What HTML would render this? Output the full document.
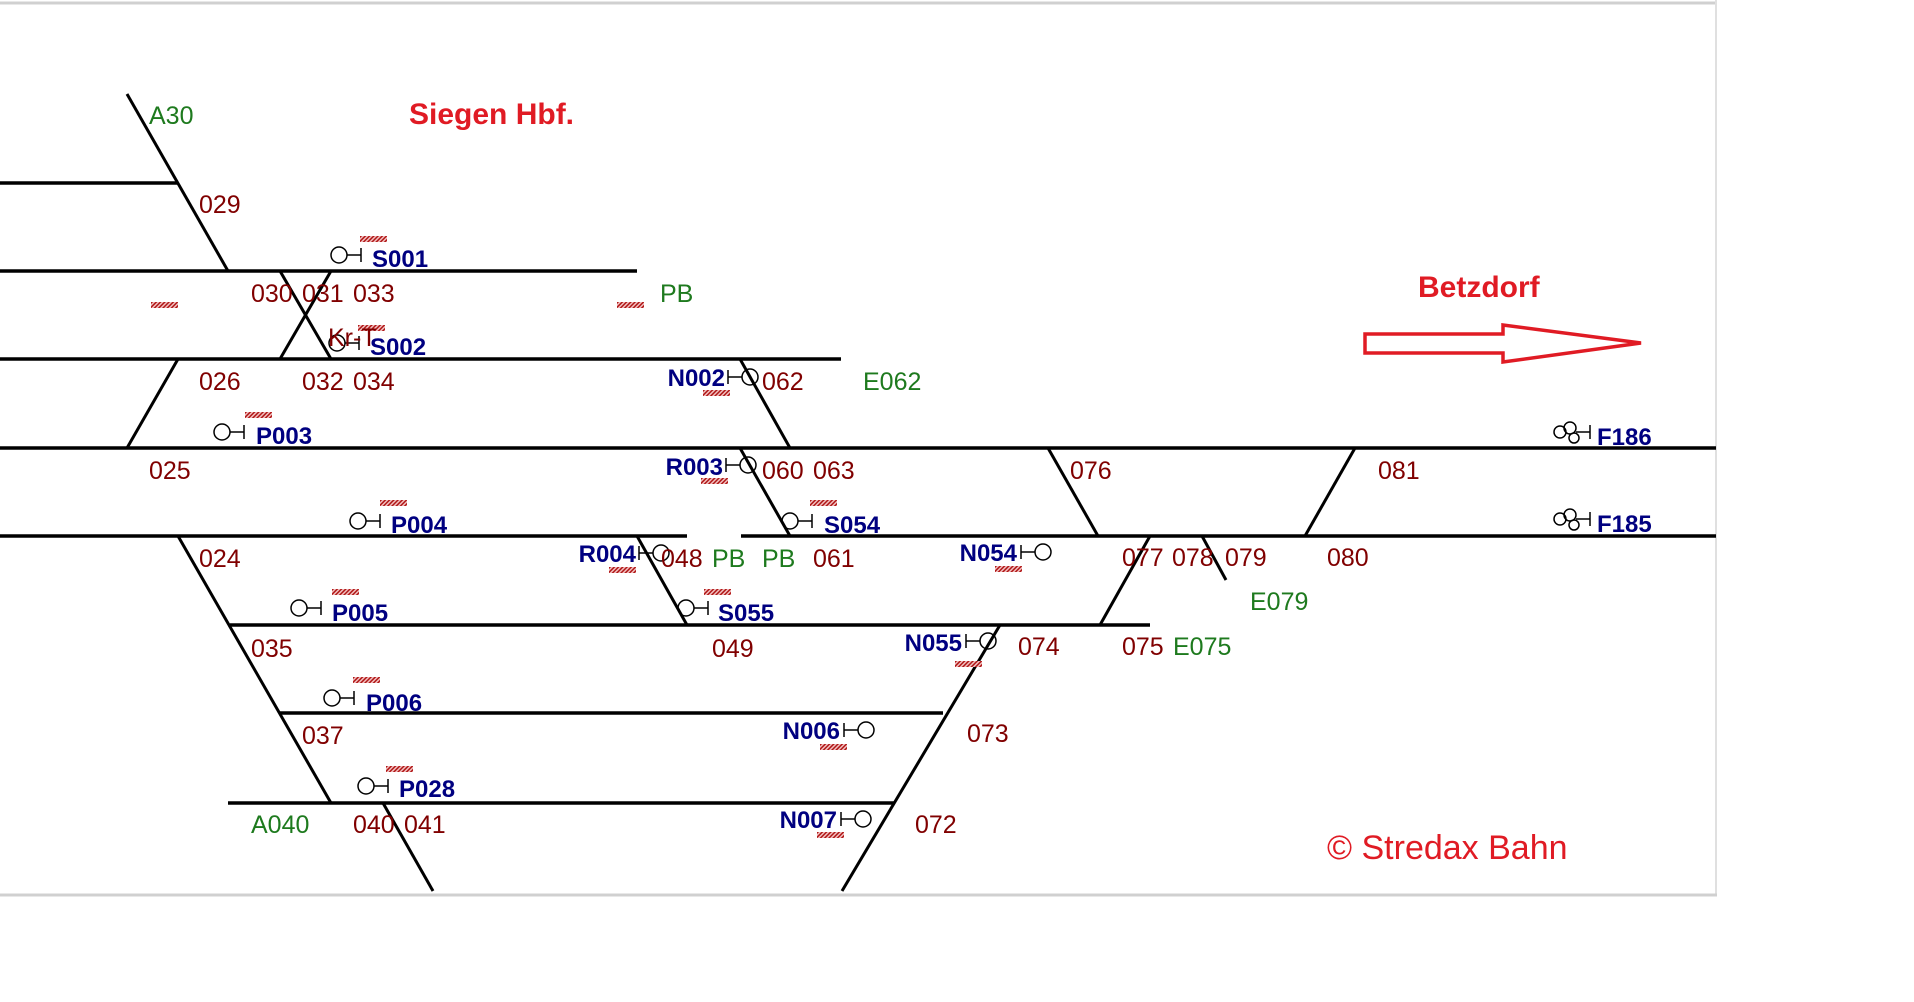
<!DOCTYPE html>
<html><head><meta charset="utf-8"><style>
html,body{margin:0;padding:0;background:#fff;}
svg{display:block;}
.t{font-family:"Liberation Sans",sans-serif;font-size:25px;fill:#800000;}
.g{font-family:"Liberation Sans",sans-serif;font-size:25px;fill:#1e7a1e;}
.s{font-family:"Liberation Sans",sans-serif;font-size:24px;font-weight:bold;fill:#000080;}
.h{font-family:"Liberation Sans",sans-serif;font-size:30px;font-weight:bold;fill:#e01b24;}
</style></head><body>
<svg width="1914" height="1002" viewBox="0 0 1914 1002" xmlns="http://www.w3.org/2000/svg">
<defs>
<pattern id="hp" width="3" height="3" patternUnits="userSpaceOnUse" patternTransform="rotate(45)">
<rect width="3" height="3" fill="#f2c0c0"/><rect width="1.5" height="3" fill="#b01818"/>
</pattern>
<g id="sl"><circle cx="0" cy="0" r="8" fill="none" stroke="#000" stroke-width="1.5"/><line x1="8" y1="0" x2="22" y2="0" stroke="#000" stroke-width="1.5"/><line x1="22" y1="-7" x2="22" y2="7" stroke="#000" stroke-width="1.5"/></g>
<g id="sr"><circle cx="0" cy="0" r="8" fill="none" stroke="#000" stroke-width="1.5"/><line x1="-8" y1="0" x2="-22" y2="0" stroke="#000" stroke-width="1.5"/><line x1="-22" y1="-7" x2="-22" y2="7" stroke="#000" stroke-width="1.5"/></g>
<g id="sf"><circle cx="0" cy="0" r="6" fill="none" stroke="#000" stroke-width="1.5"/><circle cx="10" cy="-4" r="6" fill="none" stroke="#000" stroke-width="1.5"/><circle cx="14" cy="6" r="5" fill="none" stroke="#000" stroke-width="1.5"/><line x1="16" y1="0" x2="30" y2="0" stroke="#000" stroke-width="1.5"/><line x1="30" y1="-7" x2="30" y2="7" stroke="#000" stroke-width="1.5"/></g>
<rect id="b" width="27" height="6" fill="url(#hp)"/>
</defs>
<line x1="0" y1="3" x2="1717" y2="3" stroke="#d0d0d0" stroke-width="3"/>
<line x1="1716" y1="0" x2="1716" y2="896" stroke="#e0e0e0" stroke-width="2"/>
<line x1="0" y1="895" x2="1717" y2="895" stroke="#d0d0d0" stroke-width="3"/>
<g stroke="#000" stroke-width="3.5" fill="none">
<line x1="0" y1="183" x2="178" y2="183"/>
<line x1="0" y1="271" x2="637" y2="271"/>
<line x1="0" y1="359" x2="841" y2="359"/>
<line x1="0" y1="448" x2="1716" y2="448"/>
<line x1="0" y1="536" x2="687" y2="536"/>
<line x1="741" y1="536" x2="1716" y2="536"/>
<line x1="230" y1="625" x2="1150" y2="625"/>
<line x1="280" y1="713" x2="943" y2="713"/>
<line x1="228" y1="803" x2="894" y2="803"/>
</g>
<g stroke="#000" stroke-width="3" fill="none">
<line x1="127" y1="94" x2="228" y2="271"/>
<line x1="280" y1="271" x2="331" y2="359"/>
<line x1="331" y1="271" x2="280" y2="359"/>
<line x1="178" y1="359" x2="127" y2="448"/>
<line x1="740" y1="359" x2="790" y2="448"/>
<line x1="740" y1="448" x2="790" y2="536"/>
<line x1="178" y1="536" x2="331" y2="803"/>
<line x1="383" y1="803" x2="433" y2="891"/>
<line x1="637" y1="536" x2="687" y2="625"/>
<line x1="1000" y1="625" x2="842" y2="891"/>
<line x1="1048" y1="448" x2="1098" y2="536"/>
<line x1="1355" y1="448" x2="1305" y2="536"/>
<line x1="1150" y1="536" x2="1100" y2="625"/>
<line x1="1202" y1="536" x2="1226" y2="580"/>
</g>
<text class="h" x="409" y="124">Siegen Hbf.</text>
<text class="h" x="1418" y="297">Betzdorf</text>
<polygon points="1365,334 1503,334 1503,325 1641,343 1503,362 1503,353 1365,353" fill="none" stroke="#e01b24" stroke-width="3.5"/>
<text x="1327" y="859" font-family="Liberation Sans,sans-serif" font-size="34" fill="#e01b24">© Stredax Bahn</text>
<use href="#b" x="360" y="236"/><use href="#b" x="358" y="325"/><use href="#b" x="245" y="412"/>
<use href="#b" x="151" y="302"/><use href="#b" x="617" y="302"/>
<use href="#b" x="380" y="500"/><use href="#b" x="332" y="589"/><use href="#b" x="353" y="677"/><use href="#b" x="386" y="766"/>
<use href="#b" x="704" y="589"/><use href="#b" x="810" y="500"/><use href="#b" x="609" y="567"/>
<use href="#b" x="703" y="390"/><use href="#b" x="701" y="478"/>
<use href="#b" x="955" y="661"/><use href="#b" x="995" y="566"/><use href="#b" x="820" y="744"/><use href="#b" x="817" y="832"/>
<use href="#sl" x="339" y="255"/><text class="s" x="372" y="267">S001</text>
<use href="#sl" x="337" y="343"/><text class="s" x="370" y="355">S002</text>
<text class="t" x="328" y="346">Kr-T</text>
<use href="#sl" x="222" y="432"/><text class="s" x="256" y="444">P003</text>
<use href="#sl" x="358" y="521"/><text class="s" x="391" y="533">P004</text>
<use href="#sl" x="299" y="608"/><text class="s" x="332" y="621">P005</text>
<use href="#sl" x="332" y="698"/><text class="s" x="366" y="711">P006</text>
<use href="#sl" x="366" y="786"/><text class="s" x="399" y="797">P028</text>
<use href="#sl" x="686" y="608"/><text class="s" x="718" y="621">S055</text>
<use href="#sl" x="790" y="521"/><text class="s" x="824" y="533">S054</text>
<use href="#sr" x="661" y="553"/><text class="s" x="636" y="562" text-anchor="end">R004</text>
<use href="#sr" x="750" y="377"/><text class="s" x="725" y="386" text-anchor="end">N002</text>
<use href="#sr" x="748" y="465"/><text class="s" x="723" y="475" text-anchor="end">R003</text>
<use href="#sr" x="988" y="641"/><text class="s" x="962" y="651" text-anchor="end">N055</text>
<use href="#sr" x="1043" y="552"/><text class="s" x="1017" y="561" text-anchor="end">N054</text>
<use href="#sr" x="866" y="730"/><text class="s" x="840" y="739" text-anchor="end">N006</text>
<use href="#sr" x="863" y="819"/><text class="s" x="837" y="828" text-anchor="end">N007</text>
<use href="#sf" x="1560" y="432"/><text class="s" x="1597" y="445">F186</text>
<use href="#sf" x="1560" y="519"/><text class="s" x="1597" y="532">F185</text>
<text class="g" x="149" y="124">A30</text>
<text class="t" x="199" y="213">029</text>
<text class="t" x="251" y="302">030</text><text class="t" x="302" y="302">031</text><text class="t" x="353" y="302">033</text>
<text class="g" x="660" y="302">PB</text>
<text class="t" x="199" y="390">026</text><text class="t" x="302" y="390">032</text><text class="t" x="353" y="390">034</text>
<text class="t" x="762" y="390">062</text><text class="g" x="863" y="390">E062</text>
<text class="t" x="149" y="479">025</text><text class="t" x="762" y="479">060</text><text class="t" x="813" y="479">063</text>
<text class="t" x="1070" y="479">076</text><text class="t" x="1378" y="479">081</text>
<text class="t" x="199" y="567">024</text>
<text class="t" x="661" y="567">048</text><text class="g" x="712" y="567">PB</text><text class="g" x="762" y="567">PB</text><text class="t" x="813" y="567">061</text>
<text class="t" x="1122" y="566">077</text><text class="t" x="1172" y="566">078</text><text class="t" x="1225" y="566">079</text><text class="t" x="1327" y="566">080</text>
<text class="g" x="1250" y="610">E079</text>
<text class="t" x="251" y="657">035</text><text class="t" x="712" y="657">049</text>
<text class="t" x="1018" y="655">074</text><text class="t" x="1122" y="655">075</text><text class="g" x="1173" y="655">E075</text>
<text class="t" x="302" y="744">037</text><text class="t" x="967" y="742">073</text>
<text class="g" x="251" y="833">A040</text><text class="t" x="353" y="833">040</text><text class="t" x="404" y="833">041</text>
<text class="t" x="915" y="833">072</text>
</svg>
</body></html>
